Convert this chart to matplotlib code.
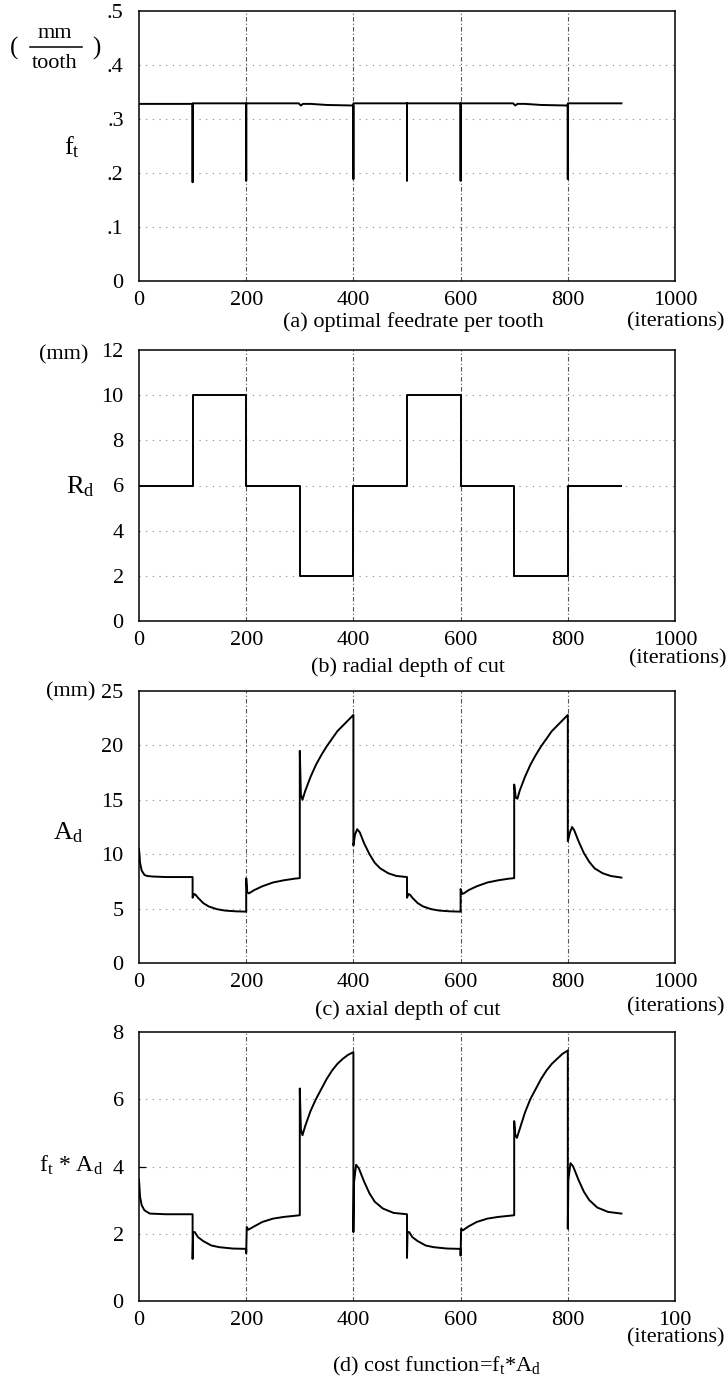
import matplotlib
matplotlib.use('Agg')
import matplotlib.pyplot as plt
from matplotlib.lines import Line2D

plt.rcParams['font.family'] = ['Liberation Serif', 'DejaVu Serif']
plt.rcParams['mathtext.fontset'] = 'custom'
plt.rcParams['mathtext.rm'] = 'Liberation Serif'
plt.rcParams['mathtext.it'] = 'Liberation Serif:italic'

# ---------------- data ----------------
x_ticks = [0, 200, 400, 600, 800, 1000]
xlabels_a = ['0', '200', '400', '600', '800', '1000']
xlabels_b = ['0', '200', '400', '600', '800', '1000']
xlabels_c = ['0', '200', '400', '600', '800', '1000']
xlabels_d = ['0', '200', '400', '600', '800', '100']

yticks_a = [0, 0.1, 0.2, 0.3, 0.4, 0.5]
ylabels_a = ['0', '.1', '.2', '.3', '.4', '.5']
yticks_b = [0, 2, 4, 6, 8, 10, 12]
yticks_c = [0, 5, 10, 15, 20, 25]
yticks_d = [0, 2, 4, 6, 8]

# (a) feedrate per tooth
fa_x = [0, 100, 100, 100, 200, 200, 200, 298, 302, 306, 320, 350, 398,
        400, 400, 400, 500, 500, 500, 600, 600, 600, 698, 702, 706, 720,
        750, 798, 800, 800, 800, 900]
fa_y = [0.328, 0.328, 0.183, 0.329, 0.329, 0.186, 0.329, 0.329, 0.325,
        0.328, 0.328, 0.326, 0.325, 0.325, 0.189, 0.329, 0.329, 0.186,
        0.329, 0.329, 0.186, 0.329, 0.329, 0.325, 0.328, 0.328, 0.326,
        0.325, 0.325, 0.189, 0.329, 0.329]

# (b) radial depth of cut (step levels)
rd_x = [0, 100, 200, 300, 400, 500, 600, 700, 800, 900]
rd_y = [6, 10, 6, 2, 6, 10, 6, 2, 6, 6]

# (c) axial depth of cut
ad_x = [0, 2, 5, 10, 15, 25, 50, 100,
        100, 103, 106, 110, 120, 130, 145, 160, 180, 200,
        200, 202, 205, 215, 230, 250, 270, 290, 300,
        300, 302, 305, 310, 320, 330, 340, 350, 360, 370, 380, 390, 400,
        400, 403, 407, 412, 420, 430, 440, 450, 465, 480, 500,
        500, 503, 506, 510, 520, 530, 545, 560, 580, 600,
        600, 603, 606, 615, 630, 650, 670, 690, 700,
        700, 703, 706, 710, 720, 730, 740, 750, 760, 770, 780, 790, 800,
        800, 804, 808, 812, 820, 830, 840, 850, 865, 880, 900]
ad_y = [10.5, 9.2, 8.5, 8.1, 8.0, 7.95, 7.9, 7.9,
        6.0, 6.35, 6.25, 6.0, 5.5, 5.2, 4.95, 4.82, 4.75, 4.72,
        7.8, 6.5, 6.4, 6.7, 7.05, 7.4, 7.6, 7.75, 7.8,
        19.5, 15.5, 15.0, 15.8, 17.1, 18.2, 19.1, 19.9, 20.6, 21.3, 21.8, 22.3, 22.8,
        10.8, 11.8, 12.3, 12.0, 11.0, 10.0, 9.2, 8.7, 8.25, 8.0, 7.9,
        6.0, 6.35, 6.25, 6.0, 5.5, 5.2, 4.95, 4.82, 4.75, 4.72,
        6.8, 6.35, 6.4, 6.7, 7.05, 7.4, 7.6, 7.75, 7.8,
        16.4, 15.2, 15.1, 15.8, 17.1, 18.2, 19.1, 19.9, 20.6, 21.3, 21.8, 22.3, 22.8,
        11.2, 12.0, 12.5, 12.2, 11.2, 10.1, 9.3, 8.7, 8.25, 8.0, 7.85]

# (d) cost function f_t * A_d
cf_x = [0, 2, 5, 10, 20, 50, 100,
        100, 101, 104, 110, 120, 135, 150, 175, 200,
        200, 201, 204, 215, 230, 250, 270, 300,
        300, 302, 305, 310, 320, 330, 340, 350, 360, 370, 380, 390, 400,
        400, 401, 405, 410, 420, 430, 440, 455, 475, 500,
        500, 501, 504, 510, 520, 535, 550, 575, 600,
        600, 601, 604, 615, 630, 650, 670, 700,
        700, 702, 705, 710, 720, 730, 740, 750, 760, 770, 780, 790, 800,
        800, 801, 805, 810, 820, 830, 840, 855, 875, 900]
cf_y = [3.6, 3.1, 2.85, 2.7, 2.6, 2.58, 2.58,
        1.25, 2.05, 2.05, 1.9, 1.78, 1.65, 1.6, 1.56, 1.55,
        1.42, 2.2, 2.12, 2.22, 2.35, 2.45, 2.5, 2.55,
        6.32, 5.1, 4.93, 5.2, 5.65, 6.0, 6.3, 6.6, 6.85, 7.05, 7.2, 7.32, 7.4,
        2.05, 3.5, 4.05, 3.95, 3.55, 3.2, 2.95, 2.75, 2.62, 2.58,
        1.28, 2.05, 2.05, 1.9, 1.78, 1.65, 1.6, 1.56, 1.55,
        1.35, 2.15, 2.1, 2.22, 2.35, 2.45, 2.5, 2.55,
        5.35, 4.95, 4.85, 5.1, 5.6, 6.0, 6.3, 6.6, 6.85, 7.05, 7.2, 7.35, 7.45,
        2.15, 3.6, 4.1, 4.0, 3.6, 3.25, 3.0, 2.78, 2.65, 2.6]

# ---------------- figure ----------------
W, H = 728, 1379
fig = plt.figure(figsize=(W / 100, H / 100), dpi=100)

FS = 16

def px(x, y):
    return x / W, 1 - y / H

def make_axes(top, bottom):
    left, right = 139, 675
    return fig.add_axes([left / W, 1 - bottom / H, (right - left) / W, (bottom - top) / H])

def style(ax, yticks, ylabels, xlabels, ymax):
    ax.set_xlim(0, 1000)
    ax.set_ylim(0, ymax)
    ax.set_xticks(x_ticks)
    ax.set_xticklabels(xlabels, fontsize=FS)
    ax.set_yticks(yticks)
    ax.set_yticklabels(ylabels, fontsize=FS)
    ax.tick_params(axis='both', length=0)
    ax.tick_params(axis='y', pad=11)
    ax.tick_params(axis='x', pad=7)
    for s in ax.spines.values():
        s.set_linewidth(1.1)
        s.set_color('black')
    for yv in yticks[1:-1]:
        ax.axhline(yv, color='#888888', lw=0.8, ls=(0, (1, 5)), zorder=0)
    for xv in x_ticks[1:-1]:
        ax.axvline(xv, color='#555555', lw=0.8, ls=(0, (4, 2, 1, 2)), zorder=0)

lw = 1.4

# (a)
ax1 = make_axes(11, 281)
ax1.plot(fa_x, fa_y, color='black', lw=lw)
style(ax1, yticks_a, ylabels_a, xlabels_a, 0.5)

# (b)
ax2 = make_axes(350, 621)
ax2.plot(rd_x, rd_y, color='black', lw=lw, drawstyle='steps-post')
style(ax2, yticks_b, [str(v) for v in yticks_b], xlabels_b, 12)

# (c)
ax3 = make_axes(691, 963)
ax3.plot(ad_x, ad_y, color='black', lw=lw)
style(ax3, yticks_c, [str(v) for v in yticks_c], xlabels_c, 25)

# (d)
ax4 = make_axes(1032, 1301)
ax4.plot(cf_x, cf_y, color='black', lw=lw)
style(ax4, yticks_d, [str(v) for v in yticks_d], xlabels_d, 8)
ax4.plot([0, 12], [4, 4], color='black', lw=0.9, clip_on=False)

# ---------------- labels ----------------
def ftext(x, y, s, ha='center', va='center', size=FS):
    fig.text(*px(x, y), s, ha=ha, va=va, fontsize=size)

# panel a y-label
ftext(14, 48, '(', size=FS + 2)
ftext(96, 48, ')', size=FS + 2)
ftext(55, 34, 'mm')
ftext(55, 63, 'tooth')
fig.add_artist(Line2D([30 / W, 82 / W], [1 - 47 / H, 1 - 47 / H], color='black', lw=1.1))
ftext(72, 147, r'f$_\mathrm{t}$', size=FS + 3)

# panel b
ftext(64, 355, '(mm)')
ftext(80, 487, r'R$_\mathrm{d}$', size=FS + 3)

# panel c
ftext(71, 692, '(mm)')
ftext(68, 833, r'A$_\mathrm{d}$', size=FS + 3)

# panel d
ftext(71, 1165, r'f$_\mathrm{t}$ * A$_\mathrm{d}$', size=FS + 1)

# captions
ftext(413, 322, '(a) optimal feedrate per tooth')
ftext(676, 322, '(iterations)')
ftext(408, 667, '(b) radial depth of cut')
ftext(727, 659, '(iterations)', ha='right')
ftext(408, 1010, '(c) axial depth of cut')
ftext(676, 1007, '(iterations)')
ftext(676, 1338, '(iterations)')
ftext(436, 1366, r'(d) cost function=f$_\mathrm{t}$*A$_\mathrm{d}$')

fig.savefig('out.png', dpi=100)
